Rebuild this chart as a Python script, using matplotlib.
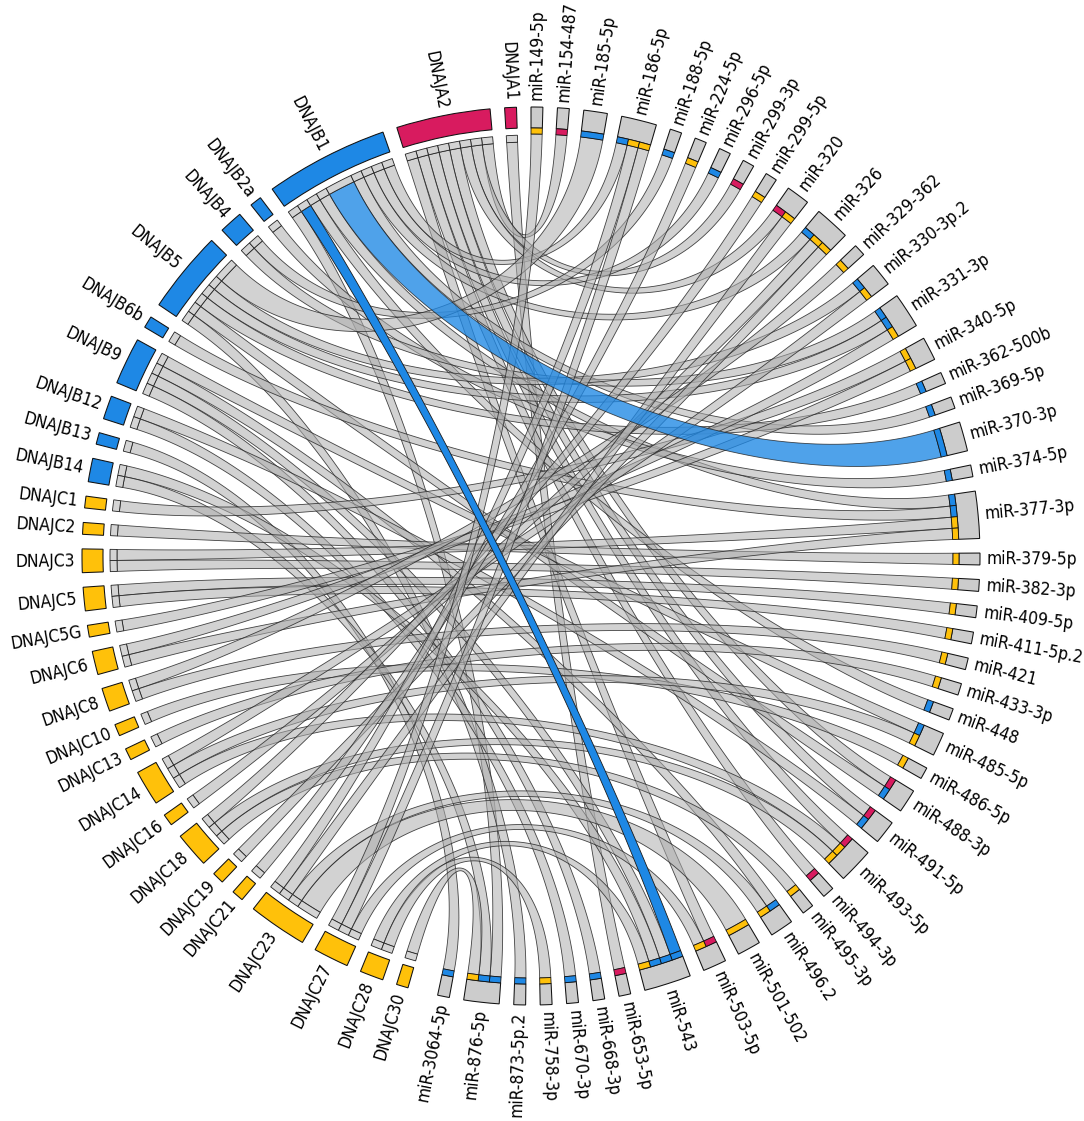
import numpy as np
import matplotlib
matplotlib.use('Agg')
import matplotlib.pyplot as plt
from matplotlib.patches import Wedge, Polygon
from matplotlib import font_manager as fm

# ---------------- data ----------------
genes = ['DNAJA1', 'DNAJA2', 'DNAJB1', 'DNAJB2a', 'DNAJB4', 'DNAJB5', 'DNAJB6b',
         'DNAJB9', 'DNAJB12', 'DNAJB13', 'DNAJB14', 'DNAJC1', 'DNAJC2', 'DNAJC3',
         'DNAJC5', 'DNAJC5G', 'DNAJC6', 'DNAJC8', 'DNAJC10', 'DNAJC13', 'DNAJC14',
         'DNAJC16', 'DNAJC18', 'DNAJC19', 'DNAJC21', 'DNAJC23', 'DNAJC27',
         'DNAJC28', 'DNAJC30']
gene_family = ['A', 'A', 'B', 'B', 'B', 'B', 'B', 'B', 'B', 'B', 'B',
               'C', 'C', 'C', 'C', 'C', 'C', 'C', 'C', 'C', 'C', 'C', 'C', 'C',
               'C', 'C', 'C', 'C', 'C']
mirnas = ['miR-149-5p', 'miR-154-487', 'miR-185-5p', 'miR-186-5p', 'miR-188-5p',
          'miR-224-5p', 'miR-296-5p', 'miR-299-3p', 'miR-299-5p', 'miR-320',
          'miR-326', 'miR-329-362', 'miR-330-3p.2', 'miR-331-3p', 'miR-340-5p',
          'miR-362-500b', 'miR-369-5p', 'miR-370-3p', 'miR-374-5p', 'miR-377-3p',
          'miR-379-5p', 'miR-382-3p', 'miR-409-5p', 'miR-411-5p.2', 'miR-421',
          'miR-433-3p', 'miR-448', 'miR-485-5p', 'miR-486-5p', 'miR-488-3p',
          'miR-491-5p', 'miR-493-5p', 'miR-494-3p', 'miR-495-3p', 'miR-496.2',
          'miR-501-502', 'miR-503-5p', 'miR-543', 'miR-653-5p', 'miR-668-3p',
          'miR-670-3p', 'miR-758-3p', 'miR-873-5p.2', 'miR-876-5p', 'miR-3064-5p']

link_gene = (['DNAJA1'] + ['DNAJA2'] * 8 + ['DNAJB1'] * 9 + ['DNAJB2a'] +
             ['DNAJB4'] * 2 + ['DNAJB5'] * 6 + ['DNAJB6b'] + ['DNAJB9'] * 4 +
             ['DNAJB12'] * 2 + ['DNAJB13'] + ['DNAJB14'] * 2 +
             ['DNAJC1', 'DNAJC2', 'DNAJC3', 'DNAJC3', 'DNAJC5', 'DNAJC5', 'DNAJC5G',
              'DNAJC6', 'DNAJC6', 'DNAJC8', 'DNAJC8', 'DNAJC10', 'DNAJC13',
              'DNAJC14', 'DNAJC14', 'DNAJC14', 'DNAJC16', 'DNAJC18', 'DNAJC18',
              'DNAJC18', 'DNAJC19', 'DNAJC21', 'DNAJC23', 'DNAJC23', 'DNAJC23',
              'DNAJC23', 'DNAJC27', 'DNAJC27', 'DNAJC27', 'DNAJC28', 'DNAJC28',
              'DNAJC30'])
link_mirna = ['miR-653-5p',
              'miR-154-487', 'miR-299-3p', 'miR-320', 'miR-488-3p', 'miR-491-5p',
              'miR-493-5p', 'miR-494-3p', 'miR-503-5p',
              'miR-876-5p', 'miR-543', 'miR-448', 'miR-377-3p', 'miR-370-3p',
              'miR-369-5p', 'miR-326', 'miR-296-5p', 'miR-186-5p',
              'miR-374-5p',
              'miR-331-3p', 'miR-188-5p',
              'miR-185-5p', 'miR-330-3p.2', 'miR-331-3p', 'miR-362-500b',
              'miR-488-3p', 'miR-873-5p.2',
              'miR-377-3p',
              'miR-485-5p', 'miR-496.2', 'miR-543', 'miR-668-3p',
              'miR-491-5p', 'miR-670-3p',
              'miR-3064-5p',
              'miR-543', 'miR-876-5p',
              'miR-340-5p', 'miR-379-5p', 'miR-377-3p', 'miR-382-3p', 'miR-409-5p',
              'miR-411-5p.2', 'miR-340-5p', 'miR-331-3p', 'miR-377-3p',
              'miR-329-362', 'miR-421', 'miR-486-5p', 'miR-433-3p',
              'miR-330-3p.2', 'miR-485-5p', 'miR-493-5p', 'miR-326',
              'miR-299-5p', 'miR-495-3p', 'miR-493-5p', 'miR-326', 'miR-224-5p',
              'miR-501-502', 'miR-186-5p', 'miR-320', 'miR-496.2',
              'miR-149-5p', 'miR-186-5p', 'miR-503-5p',
              'miR-543', 'miR-758-3p', 'miR-876-5p']
link_value = ([1] + [1] * 8 + [1, 1, 1, 1, 2.5, 1, 1, 1, 1] + [1] + [1, 1] +
              [2, 1, 1, 1, 1, 1] + [1] + [1] * 4 + [1, 1] + [1] + [1, 1] +
              [1] * 22 + [2, 1, 1, 1] + [1] * 6)
highlight = [('DNAJB1', 'miR-370-3p'), ('DNAJB1', 'miR-543')]

# ---------------- style ----------------
fam_color = {'A': '#D81B5F', 'B': '#1E88E5', 'C': '#FFC10A'}
W, H = 1084, 1121
cx, cy = 531.0, 1121 - 556.0
R_OUT, R_MID = 449.0, 428.0
R_GTRK_O, R_GTRK_I = 421.0, 414.0
R_MTRK_I = 422.0
R_LAB = 456.0
UNIT, GAP, GAP_BOTTOM = 1.5195, 1.86, 3.9

def pick_font():
    for fam, st in [('DejaVu Sans', 'condensed'), ('Liberation Sans Narrow', 'normal')]:
        try:
            p = fm.findfont(fm.FontProperties(family=fam, stretch=st), fallback_to_default=False)
            if 'Condensed' in p or 'Narrow' in p:
                return fam, st, 12.5
        except Exception:
            pass
    return 'DejaVu Sans', 'normal', 11.0
FONT, STRETCH, FSIZE = pick_font()

fig = plt.figure(figsize=(W / 100, H / 100), dpi=100)
ax = fig.add_axes([0, 0, 1, 1])
ax.set_xlim(0, W)
ax.set_ylim(0, H)
ax.set_aspect('equal')
ax.axis('off')

# ---------------- layout ----------------
gfam = dict(zip(genes, gene_family))
sector_order = mirnas + genes[::-1]
size = {s: 0.0 for s in sector_order}
for g, m, v in zip(link_gene, link_mirna, link_value):
    size[g] += v
    size[m] += v

start, end = {}, {}
cur = 90.0
for s in sector_order:
    start[s] = cur
    end[s] = cur - size[s] * UNIT
    cur = end[s] - (GAP_BOTTOM if s == mirnas[-1] else GAP)
center = {s: (start[s] + end[s]) / 2 for s in sector_order}

links = list(zip(link_gene, link_mirna, link_value))
seg = {}
for s in sector_order:
    items = []
    for i, (g, m, v) in enumerate(links):
        if g == s:
            items.append(((center[s] - center[m]) % 360, i, 'g', v))
        elif m == s:
            items.append(((center[s] - center[g]) % 360, i, 'm', v))
    items.sort(key=lambda x: -x[0])
    a = start[s]
    for off, i, side, v in items:
        seg[(i, side)] = (a, a - v * UNIT)
        a -= v * UNIT

def pt(theta, r):
    t = np.radians(theta)
    return np.array([cx + r * np.cos(t), cy + r * np.sin(t)])

def arc(t1, t2, r, n=16):
    ts = np.radians(np.linspace(t1, t2, n))
    return np.column_stack([cx + r * np.cos(ts), cy + r * np.sin(ts)])

C = np.array([cx, cy])
def bez(p0, p3, n=90):
    P0, P3 = p0 - C, p3 - C
    d = np.linalg.norm(P3 - P0)
    L = 120.0 + 0.12 * d
    P1 = P0 - L * P0 / np.linalg.norm(P0)
    P2 = P3 - L * P3 / np.linalg.norm(P3)
    t = np.linspace(0, 1, n)[:, None]
    pts = ((1 - t) ** 3 * P0 + 3 * (1 - t) ** 2 * t * P1 +
           3 * (1 - t) * t ** 2 * P2 + t ** 3 * P3)
    return pts + C

# ---------------- links ----------------
hl_draw = []
for i, (g, m, v) in enumerate(links):
    a1, a2 = seg[(i, 'g')]
    b1, b2 = seg[(i, 'm')]
    poly = np.vstack([arc(a1, a2, R_GTRK_I),
                      bez(pt(a2, R_GTRK_I), pt(b1, R_MTRK_I)),
                      arc(b1, b2, R_MTRK_I),
                      bez(pt(b2, R_MTRK_I), pt(a1, R_GTRK_I))])
    if (g, m) in highlight:
        hl_draw.append((poly, g, m))
        continue
    ax.add_patch(Polygon(poly, closed=True, facecolor=(0.68, 0.68, 0.68, 0.55),
                         edgecolor=(0.15, 0.15, 0.15, 0.85), lw=0.6, zorder=2))
for poly, g, m in hl_draw:
    alpha = 0.78 if m == 'miR-370-3p' else 1.0
    ax.add_patch(Polygon(poly, closed=True, facecolor=fam_color['B'], alpha=alpha,
                         edgecolor='#1a1a1a', lw=0.6, zorder=3))

# ---------------- tracks ----------------
for s in sector_order:
    is_gene = s in gfam
    fc = fam_color[gfam[s]] if is_gene else '#CCCCCC'
    ax.add_patch(Wedge((cx, cy), R_OUT, end[s], start[s], width=R_OUT - R_MID,
                       facecolor=fc, edgecolor='#111111', lw=0.75, zorder=4))
for i, (g, m, v) in enumerate(links):
    a1, a2 = seg[(i, 'g')]
    ax.add_patch(Wedge((cx, cy), R_GTRK_O, a2, a1, width=R_GTRK_O - R_GTRK_I,
                       facecolor='#D4D4D4', edgecolor='#222222', lw=0.6, zorder=4))
    b1, b2 = seg[(i, 'm')]
    ax.add_patch(Wedge((cx, cy), R_MID, b2, b1, width=R_MID - R_MTRK_I,
                       facecolor=fam_color[gfam[g]], edgecolor='#111111', lw=0.6, zorder=4))

# ---------------- labels ----------------
for s in sector_order:
    th = center[s] % 360
    x, y = pt(th, R_LAB)
    if 90 < th < 270:
        rot, ha = th - 180, 'right'
    else:
        rot, ha = (th if th <= 90 else th - 360), 'left'
    ax.text(x, y, s, rotation=rot, rotation_mode='anchor', ha=ha, va='center',
            fontsize=FSIZE, family=FONT, fontstretch=STRETCH, color='black', zorder=5)

fig.savefig('out.png', dpi=100)
